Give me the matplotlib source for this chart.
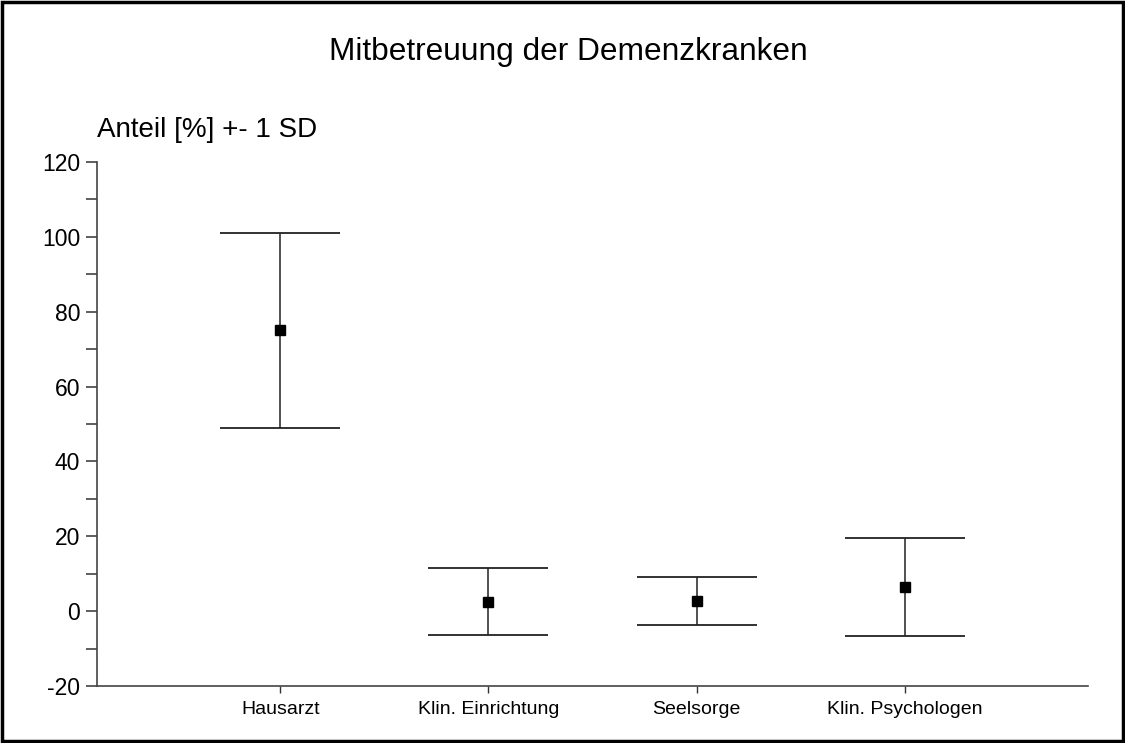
import numpy as np
import matplotlib.pyplot as plt
from matplotlib.patches import Rectangle
from matplotlib.ticker import MultipleLocator

# Mitbetreuung der Demenzkranken: Mittelwert +- 1 SD
kategorien = ["Hausarzt", "Klin. Einrichtung", "Seelsorge", "Klin. Psychologen"]
mittelwert = [75.0, 2.5, 2.7, 6.4]
sd = [26.0, 9.0, 6.4, 13.1]

plt.rcParams["font.family"] = ["Liberation Sans", "DejaVu Sans"]
plt.rcParams["axes.unicode_minus"] = False

fig = plt.figure(figsize=(11.25, 7.43), dpi=100)
ax = fig.add_axes([97/1125, 1 - 686/743, (1088 - 97)/1125, (686 - 162)/743])

x = np.arange(1, len(kategorien) + 1)
ax.errorbar(x, mittelwert, yerr=sd, fmt="s", color="black", ms=7,
            ecolor="#222222", elinewidth=1.1, capsize=43, capthick=1.3)

ax.set_xlim(0.12, 4.88)
ax.set_ylim(-20, 120)
ax.yaxis.set_major_locator(MultipleLocator(20))
ax.yaxis.set_minor_locator(MultipleLocator(10))
ax.set_xticks(x)
ax.set_xticklabels(kategorien, fontsize=14)
for lab in ax.get_yticklabels():
    lab.set_fontsize(16.5)

for s in ["top", "right"]:
    ax.spines[s].set_visible(False)
for s in ["left", "bottom"]:
    ax.spines[s].set_color("#444444")
    ax.spines[s].set_linewidth(1.2)
ax.tick_params(axis="y", which="both", direction="out", length=8, width=1.1,
               color="#333333", pad=4)
ax.tick_params(axis="x", direction="out", length=5, width=1.0, color="#333333", pad=6)

fig.text(0.505, 0.93, "Mitbetreuung der Demenzkranken", ha="center", va="center", fontsize=22.8)
fig.text(97/1125, 1 - 130/743, "Anteil [%] +- 1 SD", ha="left", va="center", fontsize=20)

# Rahmen um die ganze Grafik
fig.patches.append(Rectangle((0.002, 0.003), 0.996, 0.994, transform=fig.transFigure,
                             fill=False, edgecolor="black", linewidth=2.5))

fig.savefig("out.png", dpi=100)
